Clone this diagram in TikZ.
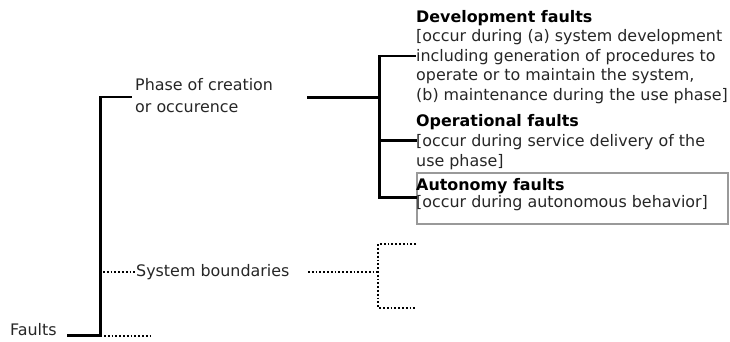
\documentclass[tikz,border=0pt]{standalone}
\usepackage{fontspec}
\setmainfont{DejaVu Sans}
\begin{document}
\begin{tikzpicture}[x=1pt,y=-1pt,
  txt/.style={font=\fontsize{15.9}{19.5}\selectfont, text=black!85, inner sep=0pt, anchor=base west},
  head/.style={txt, font=\fontsize{15.9}{19.5}\selectfont\bfseries, text=black},
  conn/.style={draw=black, line width=2.3pt, line join=miter, line cap=rect},
  trunk/.style={draw=black, line width=3.2pt},
  dots/.style={draw=black, line width=2pt, dash pattern=on 1.8pt off 2pt},
  framebox/.style={draw=black!40, line width=2pt, fill=none, inner sep=0pt,
    minimum width=311pt, minimum height=51pt, anchor=north west}
]
\useasboundingbox (0,0) rectangle (730,342);

% root of the tree
\node[txt] (faults) at (10,335.5) {Faults};

% first level
\node[txt] (phase1) at (135,90.7) {Phase of creation};
\node[txt] (phase2) at (135,113) {or occurence};
\node[txt] (sys) at (136,276.5) {System boundaries};

% second level: phase of creation
\node[head] (dev0) at (416,22.5) {Development faults};
\node[txt] (dev1) at (416,42) {[occur during (a) system development};
\node[txt] (dev2) at (416,61.5) {including generation of procedures to};
\node[txt] (dev3) at (416,81) {operate or to maintain the system,};
\node[txt] (dev4) at (416,100.5) {(b) maintenance during the use phase]};

\node[head] (op0) at (416,126.7) {Operational faults};
\node[txt] (op1) at (416,146.7) {[occur during service delivery of the};
\node[txt] (op2) at (416,166.7) {use phase]};

\node[framebox] (autobox) at (416,172) {};
\node[head] (au0) at (416,190.7) {Autonomy faults};
\node[txt] (au1) at (416,207.7) {[occur during autonomous behavior]};

% junction points
\coordinate (fOut)    at (68,335.5);
\coordinate (rootBot) at (100.5,335.5);
\coordinate (rootTop) at (100.5,97);
\coordinate (phaseIn) at (131,97);
\coordinate (sysIn)   at (103,271.5);
\coordinate (sysEnd)  at (135,271.5);
\coordinate (botIn)   at (104,335.5);
\coordinate (botEnd)  at (153,335.5);

\coordinate (phaseOut) at (307,97.3);
\coordinate (pj)       at (379.5,97.3);
\coordinate (pTop)     at (379.5,56);
\coordinate (pMid)     at (379.5,140.5);
\coordinate (pBot)     at (379.5,197.5);
\coordinate (devIn)    at (415,56);
\coordinate (opIn)     at (416,140.5);
\coordinate (auIn)     at (416,197.5);

\coordinate (sysOut) at (308,271.5);
\coordinate (sj)     at (378.3,271.5);
\coordinate (sTop)   at (378.3,244);
\coordinate (sBot)   at (378.3,308);
\coordinate (sTopIn) at (416,244);
\coordinate (sBotIn) at (416,308);

% connectors
\draw[conn] (fOut) -- (rootBot) -- (rootTop) -- (phaseIn);
\draw[dots] (sysIn) -- (sysEnd);
\draw[dots] (botIn) -- (botEnd);

\draw[trunk] (phaseOut) -- (pj);
\draw[conn] (devIn) -- (pTop) -- (pBot) -- (auIn);
\draw[conn] (pMid) -- (opIn);

\draw[dots] (sysOut) -- (sj);
\draw[dots] (sTopIn) -- (sTop) -- (sBot) -- (sBotIn);
\end{tikzpicture}
\end{document}
